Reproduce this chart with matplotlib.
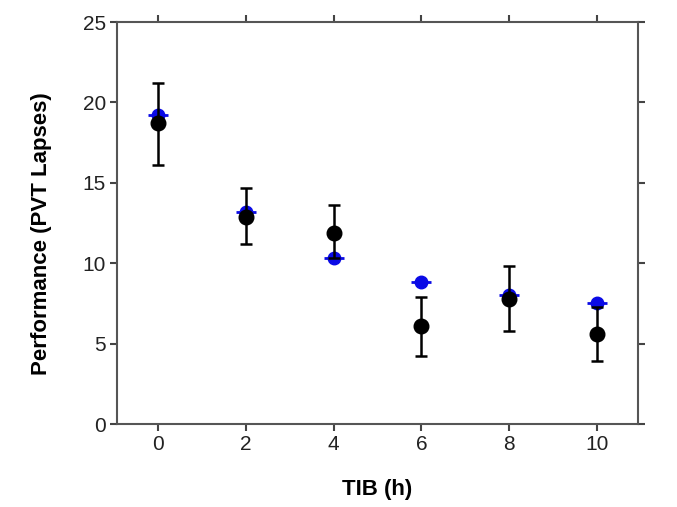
import matplotlib
matplotlib.use("Agg")
from matplotlib import pyplot as plt

# TIB hours
tib = [0, 2, 4, 6, 8, 10]

# black series (mean + error bar limits)
black_mean = [18.7, 12.9, 11.9, 6.1, 7.8, 5.6]
black_lo = [16.1, 11.2, 10.3, 4.2, 5.8, 3.9]
black_hi = [21.2, 14.7, 13.6, 7.9, 9.8, 7.3]

# blue series
blue_mean = [19.2, 13.2, 10.3, 8.8, 8.0, 7.5]

yticks = [0, 5, 10, 15, 20, 25]
xticks = [0, 2, 4, 6, 8, 10]

fonts = ["Liberation Sans", "DejaVu Sans"]

fig = plt.figure(figsize=(6.77, 5.07), dpi=100)
ax = fig.add_axes([0.1728, 0.1637, 0.7696, 0.7929])

# blue dots with a short horizontal dash
ax.plot(tib, blue_mean, "o", color="#0a0ae6", markersize=9, zorder=3)
ax.plot(tib, blue_mean, "_", color="#0a0ae6", markersize=14, markeredgewidth=2, zorder=3)

err_lo = [m - l for m, l in zip(black_mean, black_lo)]
err_hi = [h - m for m, h in zip(black_mean, black_hi)]
ax.errorbar(tib, black_mean, yerr=[err_lo, err_hi], fmt="o", color="black",
            markersize=10.5, elinewidth=1.8, capsize=4, capthick=1.8, zorder=4)

ax.set_xlim(-0.93, 10.93)
ax.set_ylim(0, 25)
ax.set_xticks(xticks)
ax.set_yticks(yticks)
ax.tick_params(direction="out", length=5, width=1.5, color="#444444",
               top=True, right=True, labelsize=15, pad=3)
for lab in ax.get_xticklabels() + ax.get_yticklabels():
    lab.set_family(fonts)
    lab.set_color("#222222")
for sp in ax.spines.values():
    sp.set_color("#555555")
    sp.set_linewidth(1.5)

ax.set_xlabel("TIB (h)", fontsize=16, fontweight="bold", family=fonts, labelpad=18)
ax.set_ylabel("Performance (PVT Lapses)", fontsize=16, fontweight="bold", family=fonts)
ax.yaxis.set_label_coords(-0.125, 0.473)

fig.savefig("out.png", dpi=100)
